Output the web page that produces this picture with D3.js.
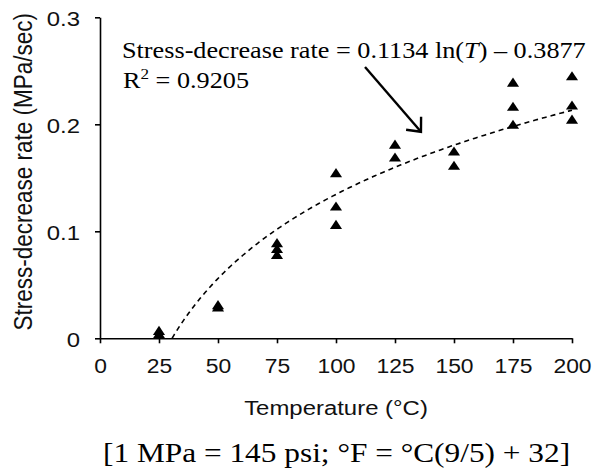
<!DOCTYPE html>
<html>
<head>
<meta charset="utf-8">
<script src="https://cdn.jsdelivr.net/npm/d3@7"></script>
<style>
  html, body { margin: 0; padding: 0; background: #fff; }
  svg { display: block; }
</style>
</head>
<body>
<svg id="chart" width="596" height="473"></svg>
<script>
// ---- data ----
const temperatures = [25, 25, 50, 50, 75, 75, 75, 100, 100, 100, 125, 125, 150, 150, 175, 175, 175, 200, 200, 200];
const rates = [0.006, 0.003, 0.030, 0.028, 0.088, 0.0825, 0.077, 0.1534, 0.1222, 0.1051, 0.180, 0.168, 0.1736, 0.1603, 0.238, 0.2155, 0.1986, 0.244, 0.2166, 0.2034];
const xTicks = [0, 25, 50, 75, 100, 125, 150, 175, 200];
const yTicks = [0, 0.1, 0.2, 0.3];
const yTickLabels = ["0", "0.1", "0.2", "0.3"];
const fitA = 0.1134, fitB = -0.3877;
const arrowFrom = [112.3, 0.2536];
const arrowTo = [136, 0.193];

const SX = 1.14; // horizontal text stretch of the original

const svg = d3.select("#chart");
const x = d3.scaleLinear().domain([0, 200]).range([100, 572]);
const y = d3.scaleLinear().domain([0, 0.3]).range([338.3, 17.3]);

// axes
const xAxis = d3.axisBottom(x).tickValues(xTicks).tickSize(5).tickSizeOuter(0).tickFormat(d3.format("d"));
const gx = svg.append("g").attr("transform", `translate(0,${y(0)})`).call(xAxis);
const yAxis = d3.axisLeft(y).tickValues(yTicks).tickSize(5).tickSizeOuter(0).tickFormat((d, i) => yTickLabels[i]);
const gy = svg.append("g").attr("transform", `translate(${x(0)},0)`).call(yAxis);

[gx, gy].forEach(g => {
  g.select(".domain").attr("stroke", "#000").attr("stroke-width", 1.6);
  g.selectAll(".tick line").attr("stroke", "#000").attr("stroke-width", 1.6);
  g.selectAll(".tick text").attr("font-family", "Liberation Sans, Arial, sans-serif")
    .attr("font-size", 21).attr("fill", "#111");
});
gx.selectAll(".tick text").attr("y", 0).attr("dy", 0)
  .attr("transform", `translate(0,35) scale(${SX - 0.05},1)`);
gy.selectAll(".tick text").attr("x", 0).attr("dy", 0)
  .attr("transform", `translate(-20,8) scale(${SX},1)`);

// trendline
const T0 = Math.exp(-fitB / fitA);
const trend = d3.range(T0, 200.01, 1).map(t => [t, fitA * Math.log(t) + fitB]);
trend[trend.length - 1] = [200, fitA * Math.log(200) + fitB];
svg.append("path")
  .attr("d", d3.line().x(d => x(d[0])).y(d => y(d[1]))(trend))
  .attr("fill", "none").attr("stroke", "#000").attr("stroke-width", 1.6)
  .attr("stroke-dasharray", "5,4");

// markers
const tri = d3.symbol().type(d3.symbolTriangle).size(48);
svg.append("g").selectAll("path").data(temperatures.map((t, i) => [t, rates[i]]))
  .join("path")
  .attr("d", tri)
  .attr("transform", d => `translate(${x(d[0])},${y(d[1])}) scale(1.15,1)`)
  .attr("fill", "#000");

// arrow
const ax1 = x(arrowFrom[0]), ay1 = y(arrowFrom[1]);
const ax2 = x(arrowTo[0]), ay2 = y(arrowTo[1]);
svg.append("line").attr("x1", ax1).attr("y1", ay1).attr("x2", ax2).attr("y2", ay2)
  .attr("stroke", "#000").attr("stroke-width", 2.4);
const ang = Math.atan2(ay1 - ay2, ax1 - ax2);
const headLen = 15, spread = 0.72;
const head = [ang - spread, ang + spread].map(a => [ax2 + headLen * Math.cos(a), ay2 + headLen * Math.sin(a)]);
svg.append("path")
  .attr("d", `M${head[0][0]},${head[0][1]}L${ax2},${ay2}L${head[1][0]},${head[1][1]}`)
  .attr("fill", "none").attr("stroke", "#000").attr("stroke-width", 2.4);

// annotation text
const serif = "Liberation Serif, Times New Roman, serif";
const sans = "Liberation Sans, Arial, sans-serif";
const eq = svg.append("text").attr("transform", `translate(122,57.5) scale(${SX},1)`)
  .attr("font-family", serif).attr("font-size", 23).attr("fill", "#000");
eq.append("tspan").text("Stress-decrease rate = 0.1134 ln(");
eq.append("tspan").attr("font-style", "italic").text("T");
eq.append("tspan").text(") \u2013 0.3877");

const r2 = svg.append("text").attr("transform", `translate(123,88) scale(${SX},1)`)
  .attr("font-family", serif).attr("font-size", 23).attr("fill", "#000");
r2.append("tspan").text("R");
r2.append("tspan").attr("font-size", 15).attr("dy", -9).text("2");
r2.append("tspan").attr("dy", 9).text(" = 0.9205");

// axis titles
svg.append("text").attr("transform", `translate(${(x(0) + x(200)) / 2},415) scale(${SX},1)`)
  .attr("text-anchor", "middle").attr("font-family", sans).attr("font-size", 21).attr("fill", "#111")
  .text("Temperature (\u00B0C)");

svg.append("text").attr("transform", `translate(31.5,${(y(0) + y(0.3)) / 2 - 6}) scale(${SX},1) rotate(-90)`)
  .attr("text-anchor", "middle").attr("font-family", sans).attr("font-size", 22.5).attr("fill", "#111")
  .text("Stress-decrease rate (MPa/sec)");

// bottom note
svg.append("text").attr("transform", `translate(103,461.5) scale(${SX},1)`)
  .attr("font-family", serif).attr("font-size", 27.5).attr("fill", "#000")
  .text("[1 MPa = 145 psi; \u00B0F = \u00B0C(9/5) + 32]");
</script>
</body>
</html>
